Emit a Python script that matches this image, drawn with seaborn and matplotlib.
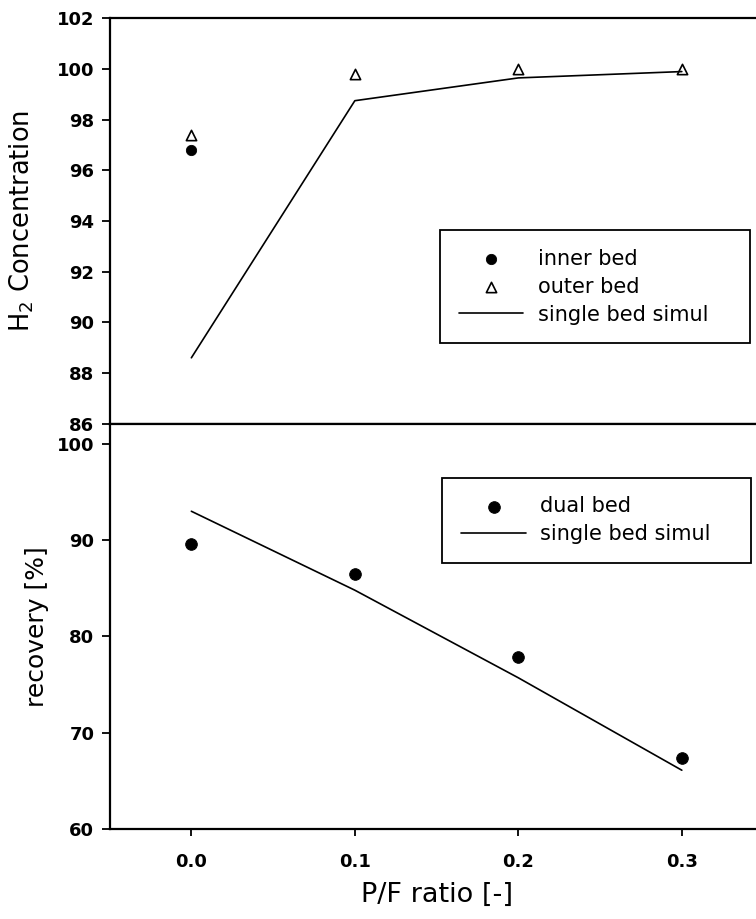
import numpy as np
import pandas as pd
import seaborn as sns
from matplotlib import pyplot as plt

sns.set_theme(style='ticks', rc={'text.color': 'black', 'axes.labelcolor': 'black'})
plt.rcParams['font.family'] = ['DejaVu Sans']
plt.rcParams['mathtext.fontset'] = 'dejavusans'

# top panel: H2 concentration
pf_inner = [0.0]
h2_inner = [96.8]
pf_outer = [0.0, 0.1, 0.2, 0.3]
h2_outer = [97.4, 99.8, 100.0, 100.0]
pf_sim = [0.0, 0.1, 0.2, 0.3]
h2_sim = [88.6, 98.75, 99.65, 99.9]

# bottom panel: recovery
pf_dual = [0.0, 0.1, 0.2, 0.3]
rec_dual = [89.6, 86.5, 77.9, 67.4]
rec_sim = [93.0, 84.8, 75.7, 66.1]

xticks = [0.0, 0.1, 0.2, 0.3]

fig = plt.figure(figsize=(7.56, 9.19), dpi=100)
ax1 = fig.add_axes([0.145, 0.539, 0.865, 0.441])
ax2 = fig.add_axes([0.145, 0.098, 0.865, 0.441])

tick_font = dict(fontsize=13, fontweight='bold')
leg_kw = dict(mode='expand', fontsize=15, frameon=True, fancybox=False,
              edgecolor='black', framealpha=1, borderpad=0.9, borderaxespad=0,
              handlelength=3.1, handletextpad=0.7, labelspacing=0.38)

# top
sns.lineplot(x=pf_sim, y=h2_sim, ax=ax1, color='black', linewidth=1.2,
             label='single bed simul')
sns.scatterplot(x=pf_inner, y=h2_inner, ax=ax1, color='black', s=55,
                marker='o', edgecolor='black', label='inner bed')
sns.scatterplot(x=pf_outer, y=h2_outer, ax=ax1, facecolor='white', s=55,
                marker='^', edgecolor='black', linewidth=1.2, label='outer bed')
ax1.set_xlim(-0.05, 0.35)
ax1.set_ylim(86, 102)
ax1.set_yticks(np.arange(86, 103, 2))
ax1.set_yticklabels([str(v) for v in range(86, 103, 2)], **tick_font)
ax1.set_xticks([])
ax1.set_ylabel('H$_2$ Concentration', fontsize=18.5)
ax1.yaxis.set_label_coords(-0.112, 0.5)
h, l = ax1.get_legend_handles_labels()
order = [l.index('inner bed'), l.index('outer bed'), l.index('single bed simul')]
ax1.legend([h[i] for i in order], [l[i] for i in order],
           loc='upper left', bbox_to_anchor=(0.505, 0.202, 0.474, 0.276),
           **leg_kw)
ax1.get_legend().get_frame().set_linewidth(1.3)

# bottom
sns.lineplot(x=pf_sim, y=rec_sim, ax=ax2, color='black', linewidth=1.2,
             label='single bed simul')
sns.scatterplot(x=pf_dual, y=rec_dual, ax=ax2, color='black', s=70,
                marker='o', edgecolor='black', label='dual bed')
ax2.set_xlim(-0.05, 0.35)
ax2.set_ylim(60, 102.1)
ax2.set_yticks([60, 70, 80, 90, 100])
ax2.set_yticklabels(['60', '70', '80', '90', '100'], **tick_font)
ax2.set_xticks(xticks)
ax2.set_xticklabels(['0.0', '0.1', '0.2', '0.3'], **tick_font)
ax2.set_ylabel('recovery [%]', fontsize=18)
ax2.yaxis.set_label_coords(-0.092, 0.5)
ax2.set_xlabel('P/F ratio [-]', fontsize=19.5, labelpad=8)
h, l = ax2.get_legend_handles_labels()
order = [l.index('dual bed'), l.index('single bed simul')]
ax2.legend([h[i] for i in order], [l[i] for i in order],
           loc='upper left', bbox_to_anchor=(0.509, 0.664, 0.472, 0.203),
           **leg_kw)
ax2.get_legend().get_frame().set_linewidth(1.3)

for ax in (ax1, ax2):
    ax.spines['right'].set_visible(False)
    for s in ('left', 'top', 'bottom'):
        ax.spines[s].set_linewidth(1.6)
        ax.spines[s].set_color('black')
    ax.tick_params(axis='y', direction='out', length=6, width=1.3, colors='black', pad=5)
    ax.tick_params(axis='x', direction='out', length=5, width=1.3, colors='black', pad=12)

fig.savefig('out.png', dpi=100)
